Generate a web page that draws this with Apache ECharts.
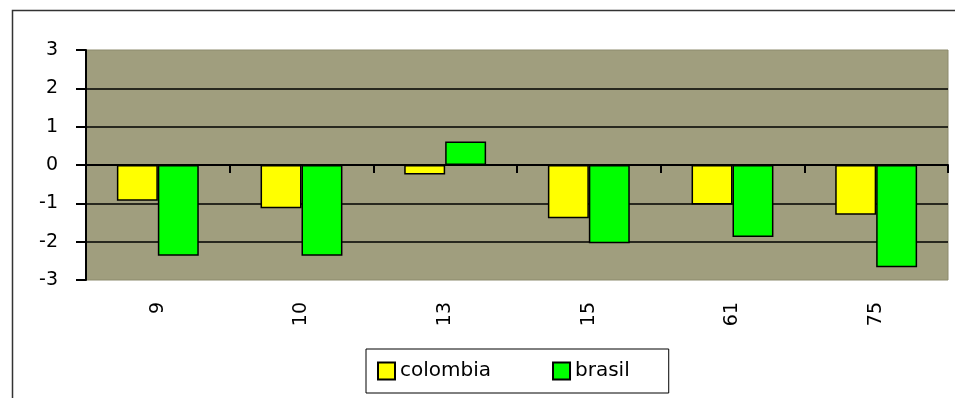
<!DOCTYPE html>
<html>
<head>
<meta charset="utf-8">
<script src="https://cdn.jsdelivr.net/npm/echarts@6/dist/echarts.min.js"></script>
<style>html,body{margin:0;padding:0;background:#fff;}#c{width:955px;height:398px;}</style>
</head>
<body>
<div id="c"></div>
<script>
const categories = ['9', '10', '13', '15', '61', '75'];
const colombia = [-0.93, -1.13, -0.25, -1.39, -1.03, -1.30];
const brasil = [-2.37, -2.37, 0.61, -2.04, -1.88, -2.67];
const yTicks = { min: -3, max: 3, interval: 1 };

const FONT = 'DejaVu Sans, sans-serif';
const chart = echarts.init(document.getElementById('c'), null, { renderer: 'canvas' });
chart.setOption({
  backgroundColor: '#ffffff',
  animation: false,
  graphic: [{
    type: 'rect', left: 10, top: 8, z: -10,
    shape: { width: 1100, height: 600 },
    style: { fill: 'none', stroke: '#333', lineWidth: 1.5 }
  }],
  grid: {
    left: 86, right: 7, top: 50, bottom: 118,
    show: true, backgroundColor: '#a09e7e', borderColor: '#8c8a6c', borderWidth: 1
  },
  legend: {
    left: 366, top: 349,
    padding: [11, 39, 11, 11],
    itemWidth: 17, itemHeight: 17, itemGap: 61,
    icon: 'rect',
    borderColor: '#000', borderWidth: 1, backgroundColor: '#fff',
    textStyle: { fontFamily: FONT, fontSize: 20, color: '#000', lineHeight: 22 },
    data: ['colombia', 'brasil']
  },
  xAxis: [{
    type: 'category', data: categories, position: 'top',
    axisLine: { onZero: true, lineStyle: { color: '#000', width: 2 } },
    axisTick: { show: true, inside: true, length: 8, lineStyle: { color: '#000', width: 2 } },
    axisLabel: { show: false }, splitLine: { show: false }, z: 5
  }, {
    type: 'category', data: categories, position: 'bottom',
    axisLine: { show: false, onZero: false }, axisTick: { show: false },
    axisLabel: { rotate: 90, margin: 22, fontFamily: FONT, fontSize: 19, color: '#000' },
    splitLine: { show: false }
  }],
  yAxis: {
    type: 'value', min: yTicks.min, max: yTicks.max, interval: yTicks.interval,
    axisLine: { show: true, lineStyle: { color: '#000', width: 2 } },
    axisTick: { show: true, length: 10, lineStyle: { color: '#000', width: 2 } },
    axisLabel: { margin: 28, fontFamily: FONT, fontSize: 19, color: '#000' },
    splitLine: { show: true, lineStyle: { color: ['transparent', '#000', '#000', '#000', '#000', '#000', 'transparent'], width: 1.5 } }
  },
  series: [{
    name: 'colombia', type: 'bar', data: colombia, xAxisIndex: 0,
    barGap: '0%', barCategoryGap: '43%',
    itemStyle: { color: '#ffff00', borderColor: '#000', borderWidth: 1.5 }
  }, {
    name: 'brasil', type: 'bar', data: brasil, xAxisIndex: 0,
    barGap: '0%', barCategoryGap: '43%',
    itemStyle: { color: '#00ff00', borderColor: '#000', borderWidth: 1.5 }
  }]
});
</script>
</body>
</html>
